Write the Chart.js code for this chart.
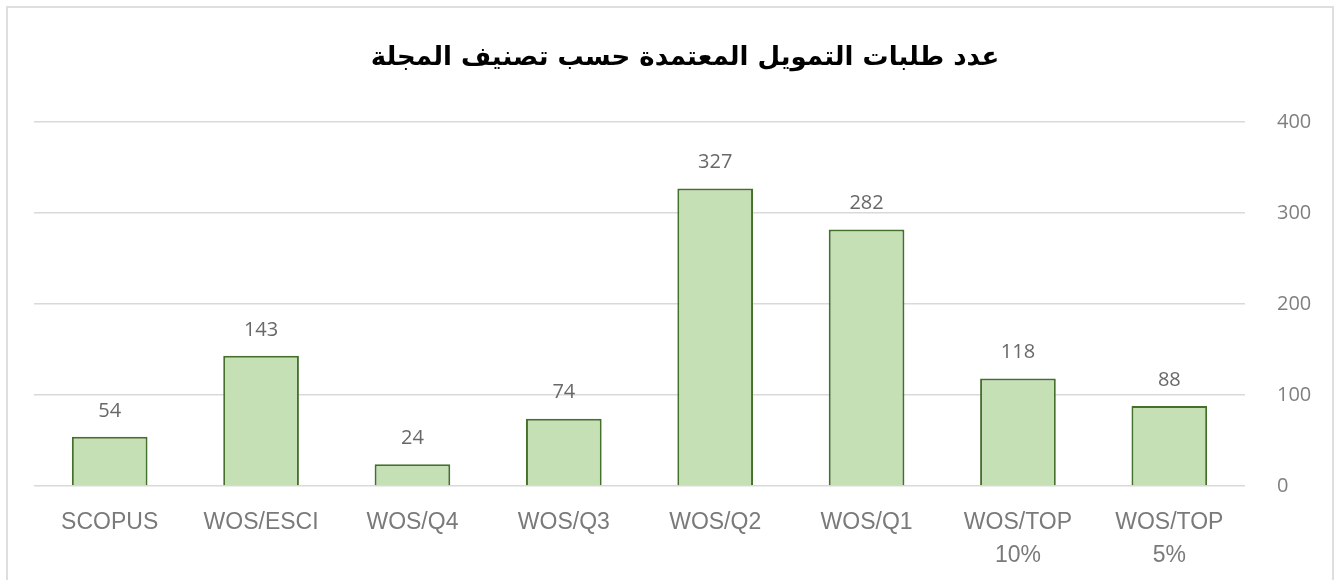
<!DOCTYPE html>
<html>
<head>
<meta charset="utf-8">
<script src="https://cdn.jsdelivr.net/npm/chart.js@4/dist/chart.umd.min.js"></script>
<style>
    body { margin: 0; background: #fff; }
    #frame {
        position: absolute; left: 6px; top: 6px; width: 1324px; height: 600px;
        border: 2px solid #dedede; pointer-events: none;
    }
    #wrap { position: absolute; left: 0; top: 0; width: 1336px; height: 580px; }
</style>
</head>
<body>
<div id="frame"></div>
<div id="wrap"><canvas id="chart"></canvas></div>
<script>
const TITLE = 'عدد طلبات التمويل المعتمدة حسب تصنيف المجلة';

const CATEGORIES = [
    'SCOPUS', 'WOS/ESCI', 'WOS/Q4', 'WOS/Q3',
    'WOS/Q2', 'WOS/Q1', ['WOS/TOP', '10%'], ['WOS/TOP', '5%'],
];
const COUNTS = [54, 143, 24, 74, 327, 282, 118, 88];
const Y_TICKS = [0, 100, 200, 300, 400];

// values written just above each bar
const barValues = {
    id: 'barValues',
    afterDatasetsDraw(chart) {
        const ctx = chart.ctx;
        const meta = chart.getDatasetMeta(0);
        ctx.save();
        ctx.font = '20px "Open Sans"';
        ctx.fillStyle = '#686868';
        ctx.textAlign = 'center';
        ctx.textBaseline = 'middle';
        meta.data.forEach((bar, i) => {
            ctx.fillText(COUNTS[i], bar.x, bar.y - 26);
        });
        ctx.restore();
    },
};

new Chart(document.getElementById('chart'), {
    type: 'bar',
    data: {
        labels: CATEGORIES,
        datasets: [{
            data: COUNTS,
            backgroundColor: '#c5e0b4',
            borderColor: '#44702c',
            borderWidth: 2,
            barPercentage: 0.5,
            categoryPercentage: 1,
        }],
    },
    options: {
        responsive: true,
        maintainAspectRatio: false,
        animation: false,
        layout: { padding: { left: 34, right: 0, top: 0, bottom: 0 } },
        plugins: {
            legend: { display: false },
            tooltip: { enabled: false },
            title: {
                display: true,
                text: TITLE,
                font: { family: 'DejaVu Sans', weight: 'bold', size: 26 },
                color: '#000',
                padding: { top: 42.4, bottom: 48.4 },
            },
        },
        scales: {
            x: {
                grid: { display: false },
                border: { display: false },
                ticks: {
                    font: { family: 'Liberation Sans', size: 23, lineHeight: 1.4 },
                    color: '#7a7a7a',
                    maxRotation: 0,
                    padding: 13,
                },
                afterFit: s => { s.height = 94; },
            },
            y: {
                position: 'right',
                min: 0,
                max: 400,
                afterBuildTicks: s => { s.ticks = Y_TICKS.map(v => ({ value: v })); },
                grid: { color: '#d9d9d9', lineWidth: 1.5, drawTicks: false },
                border: { display: false },
                ticks: {
                    font: { family: 'Open Sans', size: 20 },
                    color: '#7f7f7f',
                    padding: 32,
                },
                afterFit: s => { s.width = 91; },
            },
        },
    },
    plugins: [barValues],
});
</script>
</body>
</html>
